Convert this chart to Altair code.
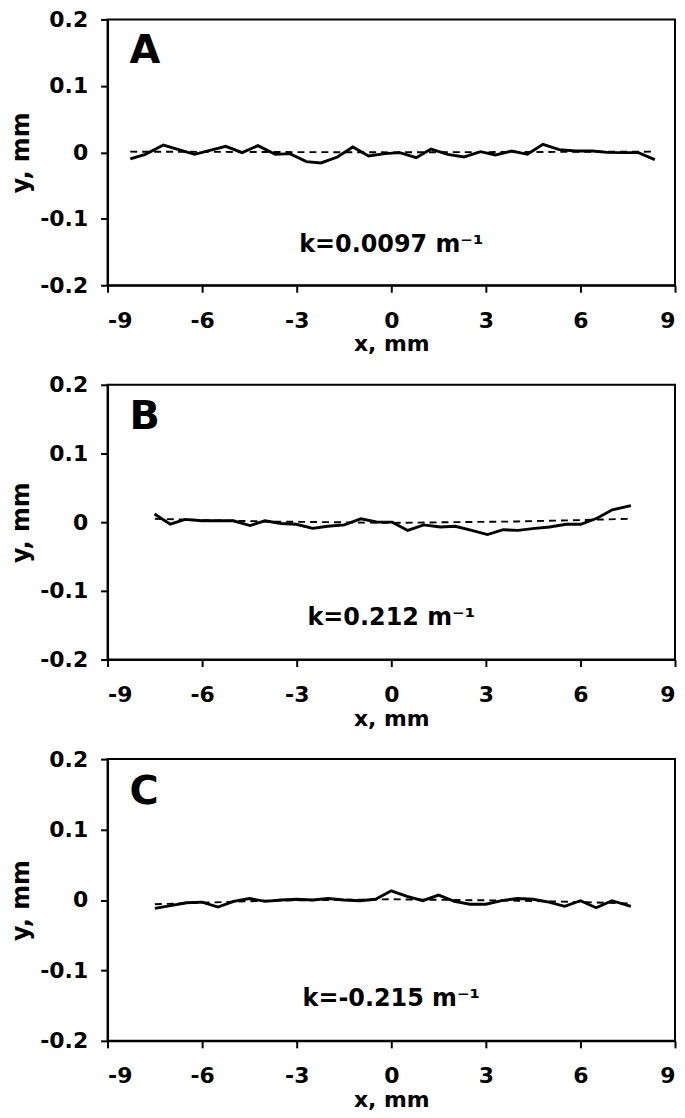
import altair as alt
import pandas as pd

FONT = "DejaVu Sans"

X_TICKS = [-9, -6, -3, 0, 3, 6, 9]
Y_TICKS = [-0.2, -0.1, 0, 0.1, 0.2]

# Panel A
A_x = [-8.28, -7.8, -7.23, -6.24, -5.25, -4.73, -4.23, -3.68, -3.22, -2.69, -2.23, -1.71, -1.22,
       -0.72, -0.2, 0.27, 0.79, 1.26, 1.79, 2.31, 2.83, 3.3, 3.82, 4.32, 4.81, 5.33, 5.85, 6.38,
       6.85, 7.37, 7.84, 8.36]
A_y = [-0.010, -0.003, 0.011, -0.003, 0.009, -0.0005, 0.010, -0.003, -0.002, -0.014, -0.016, -0.007, 0.008,
       -0.0055, -0.002, -0.0005, -0.008, 0.005, -0.003, -0.007, 0.001, -0.004, 0.002, -0.003, 0.012, 0.004, 0.002, 0.002,
       0.0, -0.0005, -0.0005, -0.011]
A_fit_x = [-8.28, 0.0, 8.36]
A_fit_y = [0.001, 0.0, 0.001]

# Panel B
B_x = [-7.51, -7.01, -6.54, -6.01, -5.48, -5.01, -4.48, -4.01, -3.49, -3.02, -2.49, -2.02, -1.49,
       -0.96, -0.44, 0.03, 0.52, 1.03, 1.56, 2.03, 2.55, 3.05, 3.55, 4.02, 4.55, 5.02, 5.55, 6.01,
       6.54, 7.01, 7.6]
B_y = [0.012, -0.003, 0.004, 0.002, 0.002, 0.002, -0.005, 0.002, -0.002, -0.003, -0.009, -0.006, -0.004,
       0.005, 0.0, 0.0, -0.012, -0.004, -0.007, -0.006, -0.012, -0.018, -0.011, -0.012, -0.009, -0.007, -0.003, -0.003,
       0.006, 0.018, 0.024]
B_fit_x = [-7.5, -6.0, -4.0, -2.0, 0.0, 2.0, 4.0, 6.0, 7.6]
B_fit_y = [0.005, 0.003, 0.001, 0.0, -0.001, 0.0, 0.001, 0.003, 0.005]

# Panel C
C_x = [-7.5, -7.0, -6.5, -6.0, -5.5, -5.0, -4.5, -4.0, -3.5, -3.0, -2.5, -2.0, -1.5, -1.0, -0.5,
       0.0, 0.5, 1.0, 1.5, 2.0, 2.5, 3.0, 3.5, 4.0, 4.5, 5.0, 5.5, 6.0, 6.5, 7.0, 7.6]
C_y = [-0.012, -0.008, -0.004, -0.003, -0.010, -0.002, 0.002, -0.002, 0.0, 0.001, 0.0, 0.002, 0.0, -0.001, 0.001,
       0.013, 0.005, -0.001, 0.007, -0.002, -0.006, -0.006, -0.001, 0.002, 0.001, -0.003, -0.009, -0.001, -0.011, -0.001,
       -0.009]
C_fit_x = [-7.5, -6.0, -4.0, -2.0, 0.0, 2.0, 4.0, 6.0, 7.6]
C_fit_y = [-0.006, -0.004, -0.001, 0.0, 0.001, 0.0, -0.001, -0.003, -0.005]

LETTERS = ["A", "B", "C"]
K_TEXTS = ["k=0.0097 m\u207b\u00b9", "k=0.212 m\u207b\u00b9", "k=-0.215 m\u207b\u00b9"]

LETTER_POS = (-8.3, 0.153)
K_POS = (0.0, -0.14)

xlab = "(datum.value < 0 ? '-' : '') + format(abs(datum.value), 'd')"
ylab = "datum.value == 0 ? '0' : (datum.value < 0 ? '-' : '') + format(abs(datum.value), '.1f')"


def panel(x, y, fx, fy, letter, ktext, h):
    xs = alt.X("x:Q", scale=alt.Scale(domain=[-9, 9], nice=False, zero=False),
               axis=alt.Axis(values=X_TICKS, title="x, mm", labelExpr=xlab,
                             labelPadding=18, titlePadding=3))
    ys = alt.Y("y:Q", scale=alt.Scale(domain=[-0.2, 0.2], nice=False, zero=False),
               axis=alt.Axis(values=Y_TICKS, title="y, mm", labelExpr=ylab,
                             labelPadding=13, titlePadding=6, titleFontSize=24))
    df = pd.DataFrame({"x": x, "y": y})
    dfit = pd.DataFrame({"x": fx, "y": fy})
    fit = alt.Chart(dfit).mark_line(color="black", strokeWidth=1.9, strokeDash=[7, 5]).encode(x=xs, y=ys)
    line = alt.Chart(df).mark_line(color="black", strokeWidth=2.9).encode(x=xs, y=ys)
    lab = alt.Chart(pd.DataFrame({"x": [LETTER_POS[0]], "y": [LETTER_POS[1]], "t": [letter]})).mark_text(
        align="left", baseline="middle", fontSize=40, fontWeight="bold", font=FONT, color="black"
    ).encode(x=xs, y=ys, text="t:N")
    kt = alt.Chart(pd.DataFrame({"x": [K_POS[0]], "y": [K_POS[1]], "t": [ktext]})).mark_text(
        align="center", baseline="middle", fontSize=24, fontWeight="bold", font=FONT, color="black"
    ).encode(x=xs, y=ys, text="t:N")
    return alt.layer(fit, line, lab, kt).properties(width=570, height=h)


pa = panel(A_x, A_y, A_fit_x, A_fit_y, LETTERS[0], K_TEXTS[0], 267)
pb = panel(B_x, B_y, B_fit_x, B_fit_y, LETTERS[1], K_TEXTS[1], 276)
pc = panel(C_x, C_y, C_fit_x, C_fit_y, LETTERS[2], K_TEXTS[2], 283)

chart = alt.vconcat(pa, pb, pc, spacing=17).properties(
    padding={"left": 0, "top": -3, "right": 0, "bottom": 0}
).configure_axis(
    domainColor="black", domainWidth=2, tickColor="black", tickWidth=2, tickSize=7,
    labelFont=FONT, labelFontSize=22, labelFontWeight="bold", labelColor="black",
    titleFont=FONT, titleFontSize=22, titleFontWeight="bold", titleColor="black",
    grid=False
).configure_view(stroke="black", strokeWidth=2)

chart.save("out.html", embed_options={"renderer": "svg", "actions": False})
